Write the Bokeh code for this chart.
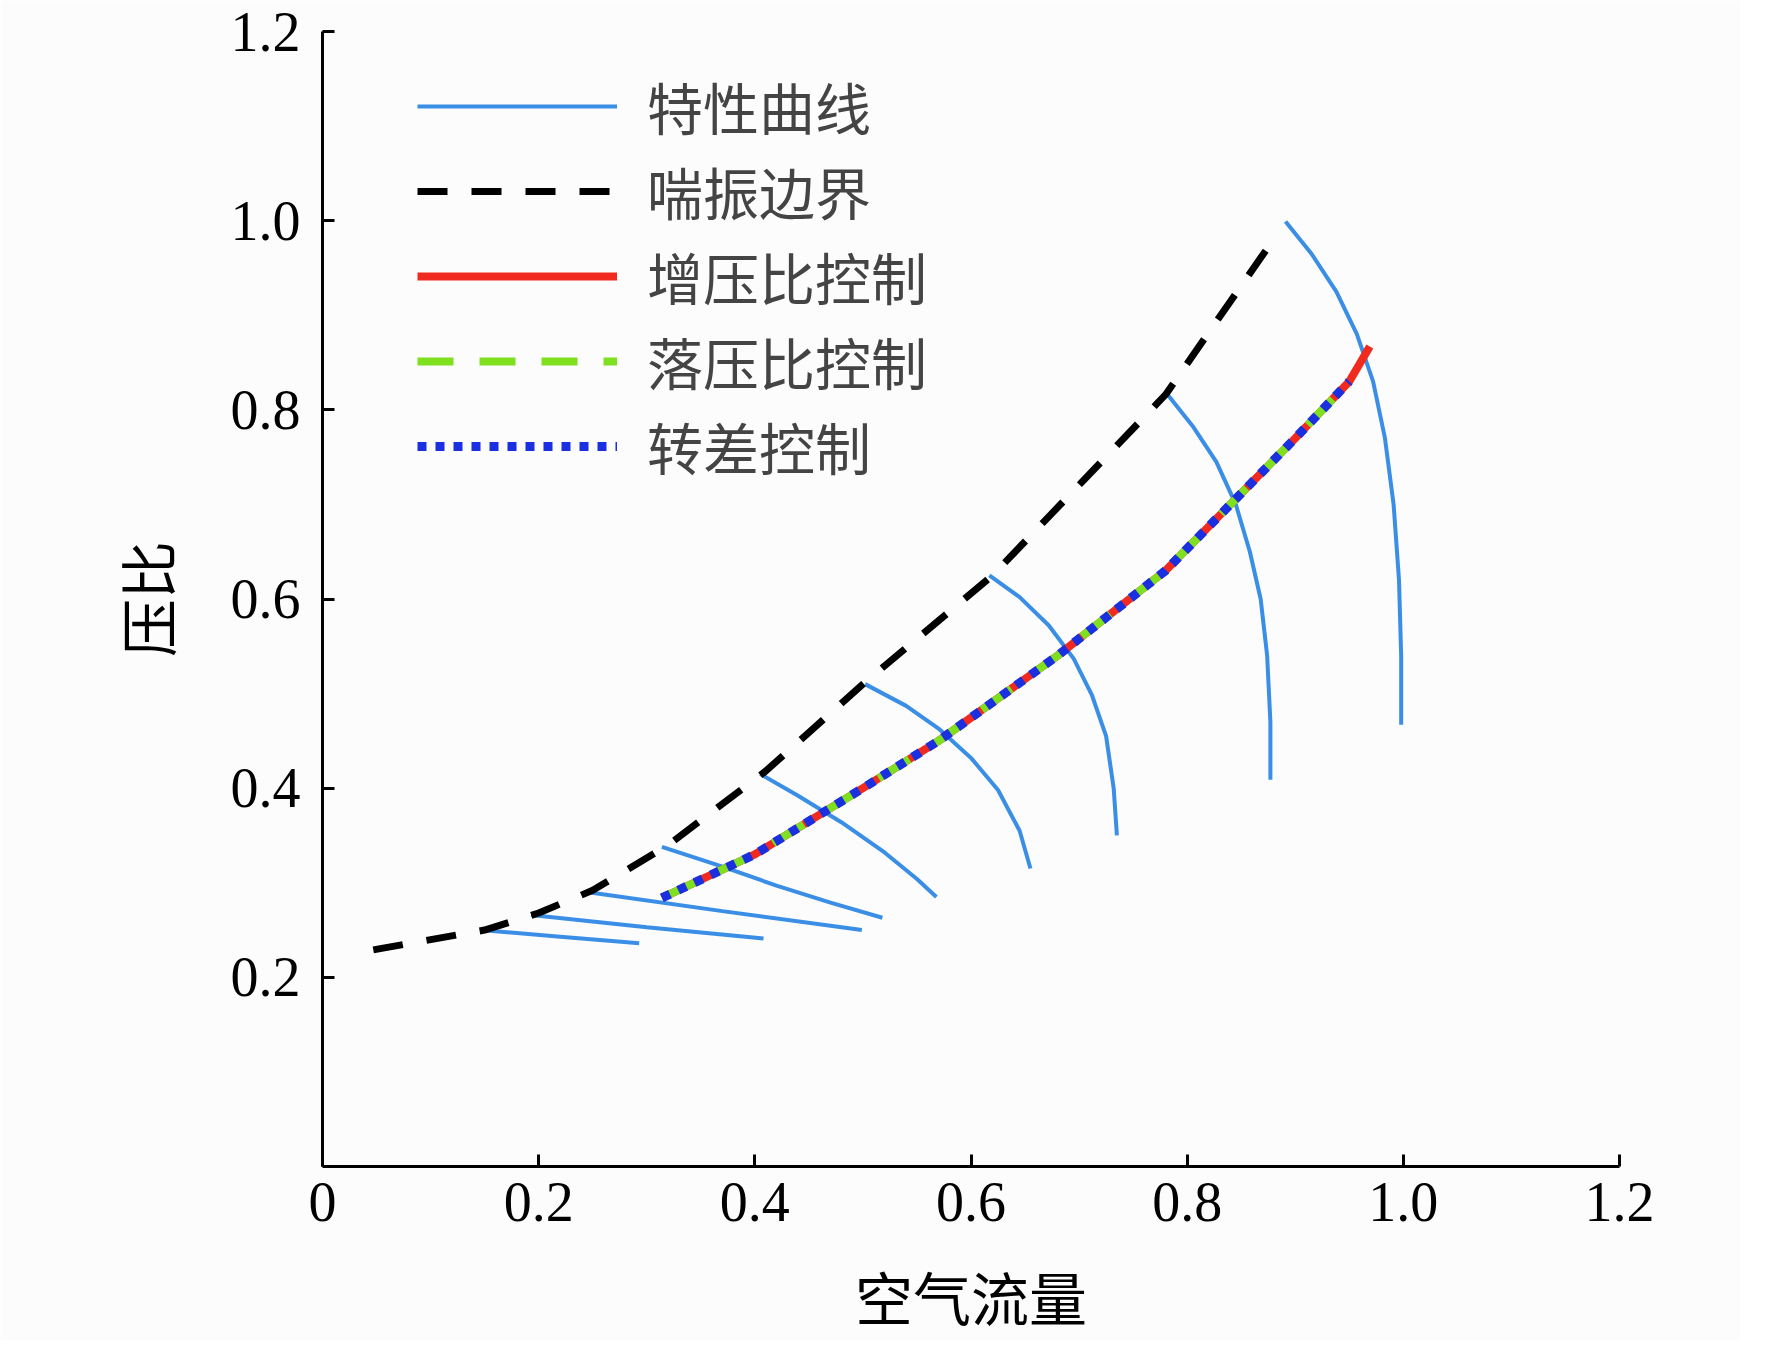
from bokeh.plotting import figure
from bokeh.models import Legend, LegendItem, FixedTicker
from bokeh.embed import file_html
from bokeh.resources import INLINE

# surge boundary
surge_x = [0.047, 0.15, 0.20, 0.25, 0.32, 0.41, 0.50, 0.62, 0.78, 0.881]
surge_y = [0.229, 0.25, 0.268, 0.292, 0.34, 0.418, 0.51, 0.625, 0.816, 0.982]

# characteristic curves
char_x = [
    [0.146, 0.22, 0.293],
    [0.193, 0.30, 0.408],
    [0.246, 0.37, 0.499],
    [0.314, 0.37, 0.42, 0.47, 0.518],
    [0.405, 0.44, 0.48, 0.52, 0.55, 0.568],
    [0.502, 0.54, 0.57, 0.60, 0.625, 0.645, 0.655],
    [0.617, 0.645, 0.672, 0.695, 0.712, 0.725, 0.732, 0.735],
    [0.782, 0.805, 0.827, 0.845, 0.858, 0.868, 0.874, 0.877, 0.877],
    [0.891, 0.915, 0.938, 0.957, 0.972, 0.983, 0.991, 0.996, 0.998, 0.998],
]
char_y = [
    [0.25, 0.243, 0.236],
    [0.266, 0.253, 0.241],
    [0.29, 0.27, 0.25],
    [0.338, 0.317, 0.297, 0.279, 0.263],
    [0.415, 0.392, 0.364, 0.332, 0.304, 0.285],
    [0.51, 0.487, 0.463, 0.432, 0.398, 0.355, 0.315],
    [0.625, 0.602, 0.572, 0.537, 0.498, 0.455, 0.40, 0.35],
    [0.816, 0.783, 0.745, 0.70, 0.65, 0.60, 0.54, 0.47, 0.409],
    [0.999, 0.965, 0.925, 0.88, 0.83, 0.77, 0.70, 0.62, 0.54, 0.467],
]

# operating line
op_x = [0.314, 0.40, 0.50, 0.57, 0.68, 0.78, 0.84, 0.90, 0.95, 0.969]
op_y = [0.284, 0.33, 0.40, 0.45, 0.54, 0.63, 0.70, 0.77, 0.83, 0.867]

x_ticks = [0, 0.2, 0.4, 0.6, 0.8, 1.0, 1.2]
x_labels = {0: "0", 0.2: "0.2", 0.4: "0.4", 0.6: "0.6", 0.8: "0.8", 1.0: "1.0", 1.2: "1.2"}
y_ticks = [0.2, 0.4, 0.6, 0.8, 1.0, 1.2]
y_labels = {0.2: "0.2", 0.4: "0.4", 0.6: "0.6", 0.8: "0.8", 1.0: "1.0", 1.2: "1.2"}

serif = "Liberation Serif"
cjk = "Noto Sans CJK SC"

p = figure(width=1740, height=1340, x_range=(0, 1.2), y_range=(0, 1.2),
           output_backend="svg", toolbar_location=None,
           min_border_left=322, min_border_right=121, min_border_top=31, min_border_bottom=144)
p.outline_line_color = None
p.grid.visible = False
p.background_fill_color = "#fcfcfc"
p.border_fill_color = "#fcfcfc"

p.xaxis.ticker = FixedTicker(ticks=x_ticks)
p.xaxis.major_label_overrides = x_labels
p.yaxis.ticker = FixedTicker(ticks=y_ticks)
p.yaxis.major_label_overrides = y_labels
for ax in (p.xaxis, p.yaxis):
    ax.axis_line_width = 3
    ax.axis_line_color = "black"
    ax.major_tick_line_width = 3
    ax.major_tick_in = 12
    ax.major_tick_out = 0
    ax.minor_tick_line_color = None
    ax.major_label_text_font = serif
    ax.major_label_text_font_size = "56px"
    ax.major_label_text_color = "black"
    ax.axis_label_text_font = cjk
    ax.axis_label_text_font_size = "58px"
    ax.axis_label_text_font_style = "normal"
    ax.axis_label_text_color = "black"
p.xaxis.axis_label = "空气流量"
p.yaxis.axis_label = "压比"
p.xaxis.major_label_standoff = 16
p.xaxis.axis_label_standoff = 30
p.yaxis.major_label_standoff = 22
p.yaxis.axis_label_standoff = 40

blue = "#3a8ee6"
items = []
rs = []
for cx, cy in zip(char_x, char_y):
    rs.append(p.line(cx, cy, line_color=blue, line_width=4))
items.append(LegendItem(label="特性曲线", renderers=[rs[0]]))
r = p.line(surge_x, surge_y, line_color="black", line_width=7, line_dash="30 24")
items.append(LegendItem(label="喘振边界", renderers=[r]))
r = p.line(op_x, op_y, line_color="#f02a1e", line_width=8)
items.append(LegendItem(label="增压比控制", renderers=[r]))
r = p.line(op_x[:-1], op_y[:-1], line_color="#7ee01e", line_width=8, line_dash="36 26")
items.append(LegendItem(label="落压比控制", renderers=[r]))
r = p.line(op_x[:-1], op_y[:-1], line_color="#1a2fe0", line_width=9, line_dash="9 9")
items.append(LegendItem(label="转差控制", renderers=[r]))

leg = Legend(items=items, border_line_color=None,
             background_fill_alpha=0, label_text_font=cjk,
             label_text_font_size="56px", glyph_width=200, glyph_height=50,
             label_height=50, spacing=4, margin=0, padding=0, label_standoff=30)
leg.location = (95, 680)
p.add_layout(leg)

open("out.html", "w").write(file_html(p, INLINE))
